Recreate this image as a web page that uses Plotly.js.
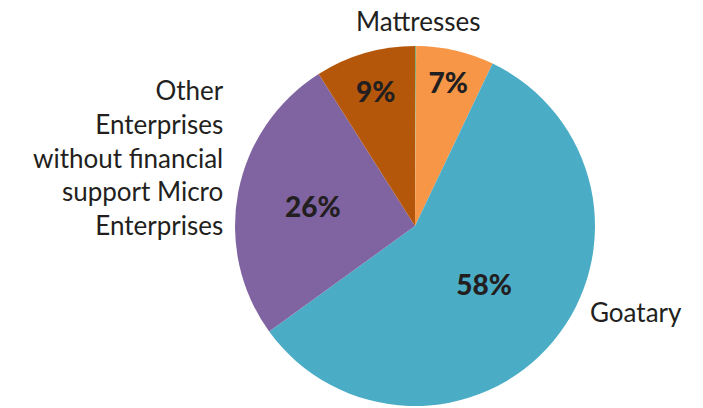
<!DOCTYPE html>
<html>
<head>
<meta charset="utf-8">
<script src="https://cdn.plot.ly/plotly-3.0.1.min.js"></script>
<style>html,body{margin:0;padding:0;background:#fff;}#chart{width:703px;height:408px;}</style>
</head>
<body>
<div id="chart"></div>
<script>
const categories = ["Mattresses", "Other small", "Goatary", "Other Enterprises without financial support Micro Enterprises", "Micro"];
const values = [0.1, 7, 58, 26, 9];
const colors = ["#7FB07A", "#F79646", "#4BACC6", "#8064A2", "#B5570B"];
const shownLabels = ["Mattresses", "Goatary", "Other<br>Enterprises<br>without financial<br>support Micro<br>Enterprises"];

const total = values.reduce((a, b) => a + b, 0);
const pctText = values.map(v => {
  const p = Math.round(v / total * 100);
  return p >= 1 ? p + "%" : "";
});

const trace = {
  type: "pie",
  labels: categories,
  values: values,
  text: pctText,
  textinfo: "text",
  textposition: "inside",
  insidetextorientation: "horizontal",
  sort: false,
  direction: "clockwise",
  rotation: 0,
  marker: {colors: colors, line: {width: 0}},
  textfont: {family: "Lato", size: 28, color: "#231F20", weight: 900},
  showlegend: false,
  hoverinfo: "none"
};

const labelFont = {family: "Lato", size: 26, color: "#231F20"};
const layout = {
  width: 703, height: 408,
  margin: {l: 127, r: 0, t: 46, b: 2},
  paper_bgcolor: "#fff",
  showlegend: false,
  annotations: [
    {text: shownLabels[0], xref: "paper", yref: "paper", x: 0.505, y: 1.02, xanchor: "center", yanchor: "bottom", showarrow: false, font: labelFont},
    {text: shownLabels[1], xref: "paper", yref: "paper", x: 0.80, y: 0.262, xanchor: "left", yanchor: "middle", showarrow: false, font: labelFont},
    {text: shownLabels[2], xref: "paper", yref: "paper", x: 0.172, y: 0.69, xanchor: "right", yanchor: "middle", align: "right", showarrow: false, font: labelFont}
  ]
};

Plotly.newPlot("chart", [trace], layout, {displayModeBar: false, staticPlot: true});
</script>
</body>
</html>
